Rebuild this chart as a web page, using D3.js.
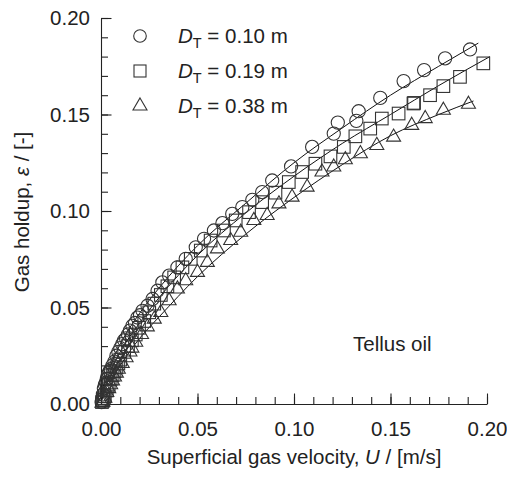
<!DOCTYPE html>
<html><head><meta charset="utf-8">
<script src="https://cdn.jsdelivr.net/npm/d3@7"></script>
<style>
html,body{margin:0;padding:0;background:#fff;}
text{font-family:"Liberation Sans",Arial,Helvetica,sans-serif;fill:#222;}
</style></head>
<body><svg id="c" width="507" height="482"></svg>
<script>
// ---- data ----
const seriesNames = ["0.10", "0.19", "0.38"];
// D_T = 0.10 m (circles)
const circU = [0.0003,0.0005,0.001,0.0015,0.002,0.0025,0.003,0.0035,0.004,0.0045,0.005,0.006,0.007,0.008,0.009,0.010,0.011,0.012,0.013,0.014,0.015,0.0163,0.0176,0.0189,0.0202,0.0215,0.0241,0.0267,0.0293,0.0318,0.0353,0.0396,0.0439,0.0491,0.0534,0.0585,0.0629,0.0680,0.0732,0.0784,0.0835,0.0887,0.0985,0.1094,0.1206,0.1227,0.1323,0.1335,0.1447,0.1568,0.1674,0.1783,0.1912];
const circE = [0.001,0.002,0.005,0.008,0.010,0.011,0.013,0.015,0.016,0.017,0.018,0.020,0.022,0.025,0.027,0.029,0.031,0.033,0.034,0.036,0.038,0.0405,0.042,0.0448,0.046,0.0483,0.0509,0.0544,0.0587,0.0630,0.0665,0.0708,0.0752,0.0812,0.0856,0.0899,0.0937,0.0985,0.1020,0.1058,0.1098,0.1158,0.1231,0.1332,0.1401,0.1458,0.1467,0.1517,0.1586,0.1673,0.1730,0.1791,0.1837];
// D_T = 0.19 m (squares)
const sqU = [0.0005,0.001,0.0015,0.002,0.003,0.004,0.005,0.006,0.007,0.008,0.009,0.010,0.012,0.014,0.016,0.018,0.0197,0.0224,0.0250,0.0276,0.0310,0.0344,0.0379,0.0422,0.0465,0.0517,0.0568,0.0637,0.0698,0.0767,0.0835,0.0904,0.0973,0.1042,0.1111,0.1189,0.1258,0.1318,0.1395,0.1455,0.1542,0.1619,0.1622,0.1705,0.1774,0.1860,0.1981];
const sqE = [0.001,0.002,0.003,0.004,0.007,0.010,0.013,0.015,0.017,0.019,0.021,0.023,0.027,0.030,0.033,0.036,0.0395,0.0430,0.0475,0.0520,0.0565,0.0610,0.0656,0.0708,0.0752,0.0795,0.0847,0.0899,0.0951,0.0994,0.1046,0.1095,0.1150,0.1202,0.1245,0.1283,0.1332,0.1387,0.1427,0.1479,0.1505,0.1557,0.1560,0.1600,0.1647,0.1695,0.1765];
// D_T = 0.38 m (triangles)
const triU = [0.0005,0.001,0.002,0.003,0.004,0.005,0.006,0.007,0.008,0.009,0.011,0.013,0.015,0.016,0.018,0.021,0.024,0.0276,0.0310,0.0353,0.0396,0.0439,0.0500,0.0551,0.0603,0.0672,0.0724,0.0792,0.0861,0.0922,0.0990,0.1068,0.1145,0.1206,0.1266,0.1344,0.1429,0.1516,0.1610,0.1680,0.1774,0.1904];
const triE = [0.0005,0.001,0.003,0.006,0.008,0.010,0.012,0.014,0.016,0.018,0.021,0.024,0.027,0.029,0.032,0.036,0.040,0.0440,0.0474,0.0535,0.0596,0.0639,0.0682,0.0734,0.0804,0.0847,0.0890,0.0951,0.0977,0.1037,0.1072,0.1124,0.1202,0.1228,0.1266,0.1297,0.1340,0.1383,0.1444,0.1479,0.1522,0.1553];
// correlation lines
const fitCircU = [0.0005,0.001,0.005,0.01,0.02,0.03,0.05,0.075,0.1,0.125,0.15,0.175,0.1955];
const fitCircE = [0.004,0.0075,0.020,0.031,0.047,0.060,0.082,0.104,0.125,0.143,0.160,0.175,0.187];
const fitSqU = [0.0005,0.001,0.005,0.01,0.02,0.03,0.05,0.075,0.1,0.125,0.15,0.175,0.2015];
const fitSqE = [0.003,0.006,0.017,0.027,0.042,0.055,0.077,0.099,0.118,0.135,0.150,0.165,0.180];
const fitTriU = [0.0005,0.001,0.005,0.01,0.02,0.03,0.05,0.075,0.1,0.125,0.15,0.175,0.193];
const fitTriE = [0.002,0.004,0.012,0.020,0.034,0.045,0.066,0.088,0.107,0.124,0.139,0.150,0.157];
const xTicks = [0, 0.05, 0.10, 0.15, 0.20];
const yTicks = [0, 0.05, 0.10, 0.15, 0.20];
const xLabel = "Superficial gas velocity, ";
const yLabel = "Gas holdup, ";
const note = "Tellus oil";

// ---- drawing ----
const svg = d3.select("#c");
const x = d3.scaleLinear().domain([0, 0.2]).range([101, 487]);
const y = d3.scaleLinear().domain([0, 0.2]).range([404, 18]);
const fmt = d3.format(".2f");
const minor = d3.range(0, 21).map(i => i / 100);
const FS = 20.5;

// minor ticks
svg.append("g").attr("transform", "translate(101,0)")
  .call(d3.axisLeft(y).tickValues(minor).tickSize(-7).tickSizeOuter(0).tickFormat(""))
  .call(g => g.select(".domain").remove());
svg.append("g").attr("transform", "translate(0,404)")
  .call(d3.axisBottom(x).tickValues(minor).tickSize(-7).tickSizeOuter(0).tickFormat(""))
  .call(g => g.select(".domain").remove());
// major
svg.append("g").attr("transform", "translate(101,0)")
  .call(d3.axisLeft(y).tickValues(yTicks).tickSize(-10.5).tickSizeOuter(0).tickPadding(11).tickFormat(fmt));
svg.append("g").attr("transform", "translate(0,404)")
  .call(d3.axisBottom(x).tickValues(xTicks).tickSize(-10.5).tickSizeOuter(0).tickPadding(17).tickFormat(fmt));
svg.selectAll(".tick line, .domain").attr("stroke", "#222").attr("stroke-width", 1.1);
svg.selectAll(".tick text").attr("font-size", FS).attr("fill", "#222")
  .attr("font-family", '"Liberation Sans",Arial,sans-serif');

// fit lines
const line = d3.line().x(d => x(d[0])).y(d => y(d[1])).curve(d3.curveMonotoneX);
[[fitCircU, fitCircE], [fitSqU, fitSqE], [fitTriU, fitTriE]].forEach(([u, e]) => {
  svg.append("path").datum(u.map((v, i) => [v, e[i]]))
    .attr("d", line).attr("fill", "none").attr("stroke", "#111").attr("stroke-width", 1);
});

const mk = "#333";
// circles
svg.append("g").selectAll("circle").data(circU.map((v, i) => [v, circE[i]])).join("circle")
  .attr("cx", d => x(d[0])).attr("cy", d => y(d[1])).attr("r", 6.6)
  .attr("fill", "none").attr("stroke", mk).attr("stroke-width", 1.1);
// squares
svg.append("g").selectAll("rect").data(sqU.map((v, i) => [v, sqE[i]])).join("rect")
  .attr("x", d => x(d[0]) - 6.3).attr("y", d => y(d[1]) - 6.3).attr("width", 12.6).attr("height", 12.6)
  .attr("fill", "none").attr("stroke", mk).attr("stroke-width", 1.1);
// triangles
const tri = d3.symbol().type(d3.symbolTriangle).size(85);
svg.append("g").selectAll("path").data(triU.map((v, i) => [v, triE[i]])).join("path")
  .attr("d", tri).attr("transform", d => `translate(${x(d[0])},${y(d[1])})`)
  .attr("fill", "none").attr("stroke", mk).attr("stroke-width", 1.1);

// legend
const legY = [36, 71, 106];
svg.append("circle").attr("cx", 140).attr("cy", legY[0]).attr("r", 6.3)
  .attr("fill", "none").attr("stroke", mk).attr("stroke-width", 1.1);
svg.append("rect").attr("x", 134).attr("y", legY[1] - 6).attr("width", 12).attr("height", 12)
  .attr("fill", "none").attr("stroke", mk).attr("stroke-width", 1.1);
svg.append("path").attr("d", tri).attr("transform", `translate(140,${legY[2]})`)
  .attr("fill", "none").attr("stroke", mk).attr("stroke-width", 1.1);
seriesNames.forEach((s, i) => {
  const t = svg.append("text").attr("x", 178).attr("y", legY[i] + 7).attr("font-size", FS);
  t.append("tspan").attr("font-style", "italic").text("D");
  t.append("tspan").attr("font-size", 14.5).attr("dy", 5).text("T");
  t.append("tspan").attr("dy", -5).text(" = " + s + " m");
});

// note
svg.append("text").attr("x", 353).attr("y", 351).attr("font-size", FS).text(note);

// axis labels
const xl = svg.append("text").attr("x", 294).attr("y", 464).attr("text-anchor", "middle").attr("font-size", FS);
xl.append("tspan").text(xLabel);
xl.append("tspan").attr("font-style", "italic").text("U");
xl.append("tspan").text(" / [m/s]");
const yl = svg.append("text").attr("transform", "translate(29,212) rotate(-90)").attr("text-anchor", "middle").attr("font-size", FS);
yl.append("tspan").text(yLabel);
yl.append("tspan").attr("font-style", "italic").text("ε");
yl.append("tspan").text(" / [-]");
</script></body></html>
